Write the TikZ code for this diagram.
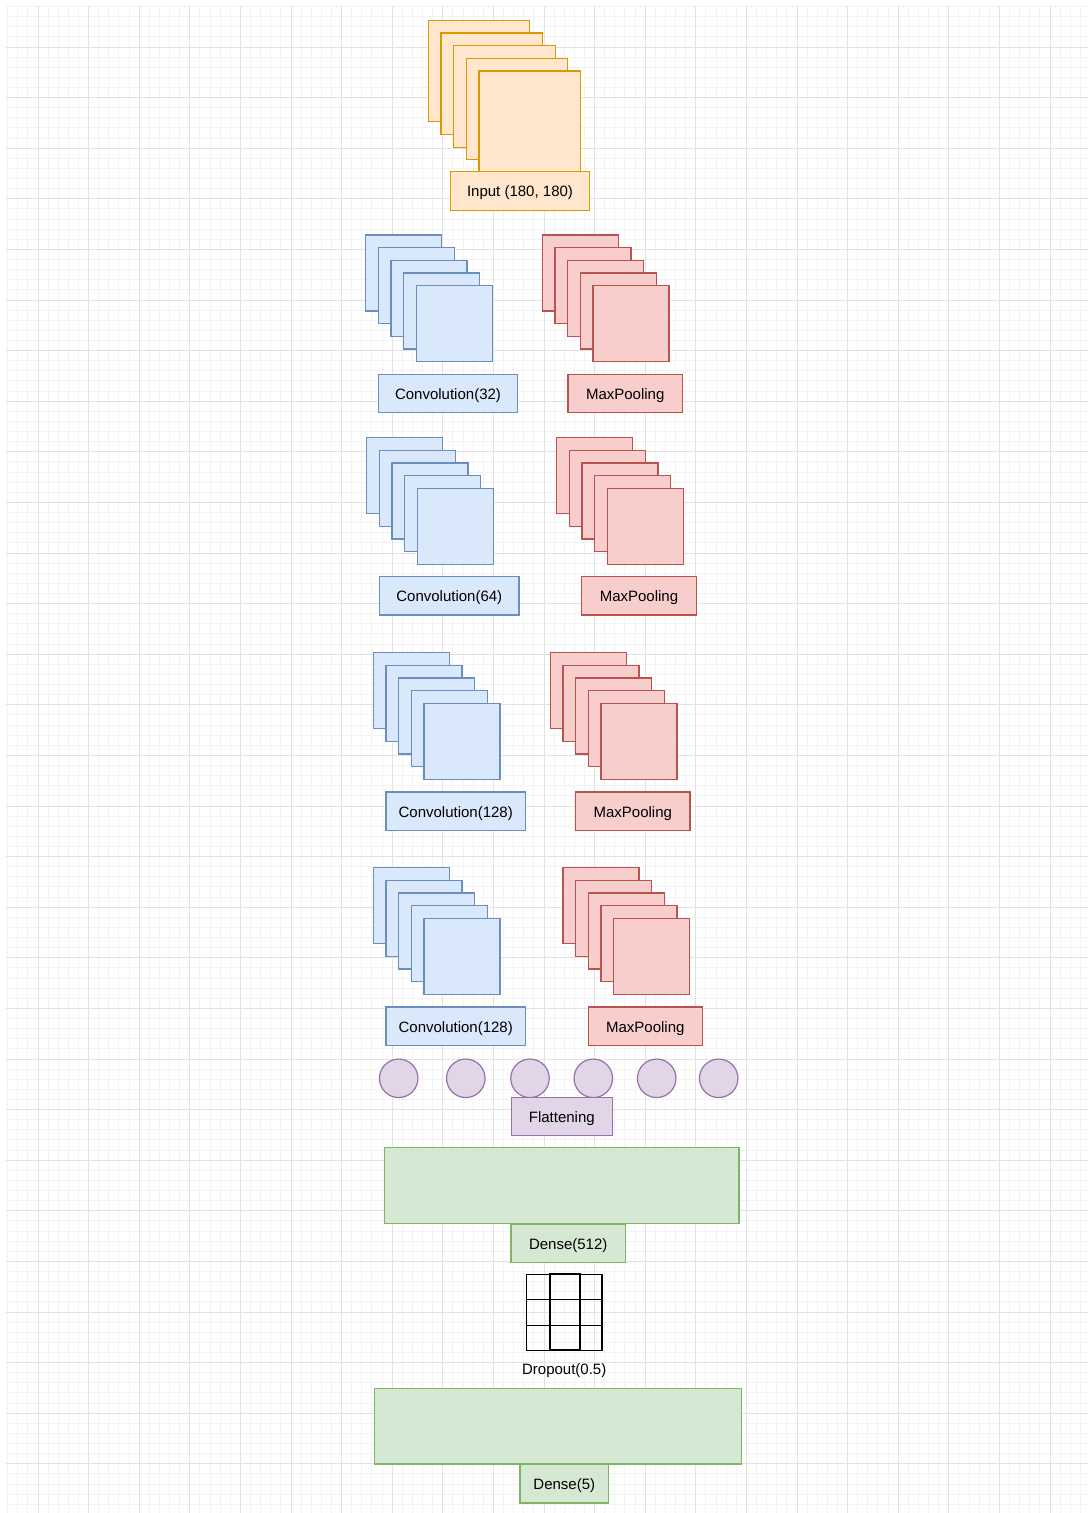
\documentclass[tikz,border=0pt]{standalone}
\usepackage{fontspec}
\setmainfont{Liberation Sans}
\usepackage{tikz}
\usetikzlibrary{positioning}
\definecolor{InFill}{HTML}{FFE6CC}
\definecolor{InLine}{HTML}{D79B00}
\definecolor{ConvFill}{HTML}{DAE8FC}
\definecolor{ConvLine}{HTML}{6C8EBF}
\definecolor{PoolFill}{HTML}{F8CECC}
\definecolor{PoolLine}{HTML}{B85450}
\definecolor{FlatFill}{HTML}{E1D5E7}
\definecolor{FlatLine}{HTML}{9673A6}
\definecolor{DenseFill}{HTML}{D5E8D4}
\definecolor{DenseLine}{HTML}{82B366}
\definecolor{GridMinor}{HTML}{F3F3F3}
\definecolor{GridMajor}{HTML}{E2E2E2}

\begin{document}
\begin{tikzpicture}[
  x=1pt, y=-1pt,
  every node/.style={inner sep=0pt, outer sep=0pt, font=\fontsize{15pt}{18pt}\selectfont,
    text height=13pt, text depth=1.4pt},
  sheet/.style={rectangle, line width=1.2pt, anchor=north west},
  insheet/.style={sheet, draw=InLine, fill=InFill},
  convsheet/.style={sheet, draw=ConvLine, fill=ConvFill},
  poolsheet/.style={sheet, draw=PoolLine, fill=PoolFill},
  tag/.style={rectangle, line width=1.2pt, minimum height=38.4pt, align=center},
  intag/.style={tag, draw=InLine, fill=InFill},
  convtag/.style={tag, draw=ConvLine, fill=ConvFill, minimum width=139.4pt},
  pooltag/.style={tag, draw=PoolLine, fill=PoolFill, minimum width=114.3pt},
  unit/.style={circle, draw=FlatLine, fill=FlatFill, line width=1.2pt, minimum size=38.5pt},
  flattag/.style={tag, draw=FlatLine, fill=FlatFill},
  densebox/.style={rectangle, draw=DenseLine, fill=DenseFill, line width=1.2pt},
  densetag/.style={tag, draw=DenseLine, fill=DenseFill}
]

% --- Background grid
\useasboundingbox (0,0) rectangle (1088,1513);
\fill[white] (0,0) rectangle (1088,1513);
\foreach \k in {-3,...,103}
  \draw[GridMinor, line width=1pt] ({38+10.12*\k},6) -- ({38+10.12*\k},1513);
\foreach \k in {-4,...,144}
  \draw[GridMinor, line width=1pt] (6,{47+10.12*\k}) -- (1088,{47+10.12*\k});
\foreach \k in {0,...,20}
  \draw[GridMajor, line width=1pt] ({38+50.6*\k},6) -- ({38+50.6*\k},1513);
\foreach \k in {0,...,28}
  \draw[GridMajor, line width=1pt] (6,{47+50.6*\k}) -- (1088,{47+50.6*\k});

% --- Feature map stacks (five sheets each)
\foreach \n/\x/\y/\s/\st in {
    inp/428.3/20.3/101.5/insheet,
    conva/365.7/235/76/convsheet,   poola/542.3/235/76/poolsheet,
    convb/366.7/437.7/76/convsheet, poolb/556.7/437.7/76/poolsheet,
    convc/373.3/652.7/76/convsheet, poolc/550.3/652.7/76/poolsheet,
    convd/373.3/867.7/76/convsheet, poold/563/867.7/76/poolsheet}
  \foreach \i in {0,...,4}
    \node[\st, minimum size=\s] (\n-\i) at ({\x+12.65*\i},{\y+12.65*\i}) {};

% --- Stack labels
\node[intag, minimum width=139.4pt] (inplbl) at (520,190.9) {Input (180, 180)};
\node[convtag] (convalbl) at (448,393.5)   {Convolution(32)};
\node[pooltag] (poolalbl) at (625.2,393.5) {MaxPooling};
\node[convtag] (convblbl) at (449.3,595.8) {Convolution(64)};
\node[pooltag] (poolblbl) at (639,595.8)   {MaxPooling};
\node[convtag] (convclbl) at (455.7,811.2) {Convolution(128)};
\node[pooltag] (poolclbl) at (632.8,811.2) {MaxPooling};
\node[convtag] (convdlbl) at (455.7,1026.2) {Convolution(128)};
\node[pooltag] (polldlbl) at (645.3,1026.2) {MaxPooling};

% --- Flattening
\foreach \i/\x in {1/398.7, 2/465.8, 3/530, 4/593.3, 5/656.7, 6/718.7}
  \node[unit] (flat\i) at (\x,1078.3) {};
\node[flattag, minimum width=101pt] (flatlbl) at (561.8,1116.3) {Flattening};

% --- Dense(512)
\node[densebox, minimum width=354.7pt, minimum height=75.6pt] (densea) at (561.7,1185.5) {};
\node[densetag, minimum width=114.3pt] (densealbl) at (568.2,1243.2) {Dense(512)};

% --- Dropout
\node[rectangle, draw=black, line width=1.2pt, minimum width=75.7pt, minimum height=76pt] (drop) at (564.2,1312.3) {};
\draw[line width=1.2pt] (549.7,1274.3) -- (549.7,1350.3);
\draw[line width=1.2pt] (579.7,1274.3) -- (579.7,1350.3);
\draw[line width=1.2pt] (drop.west |- 0,1299.7) -- (drop.east |- 0,1299.7);
\draw[line width=1.2pt] (drop.west |- 0,1325.3) -- (drop.east |- 0,1325.3);
\draw[line width=1.7pt] (549.7,1274.3) rectangle (579.7,1350.3);
\node[below=11pt of drop] (droplbl) {Dropout(0.5)};

% --- Dense(5)
\node[densebox, minimum width=367.4pt, minimum height=75.7pt] (denseb) at (558,1426.2) {};
\node[densetag, minimum width=88.7pt] (denseblbl) at (564.3,1483.8) {Dense(5)};

\end{tikzpicture}
\end{document}
